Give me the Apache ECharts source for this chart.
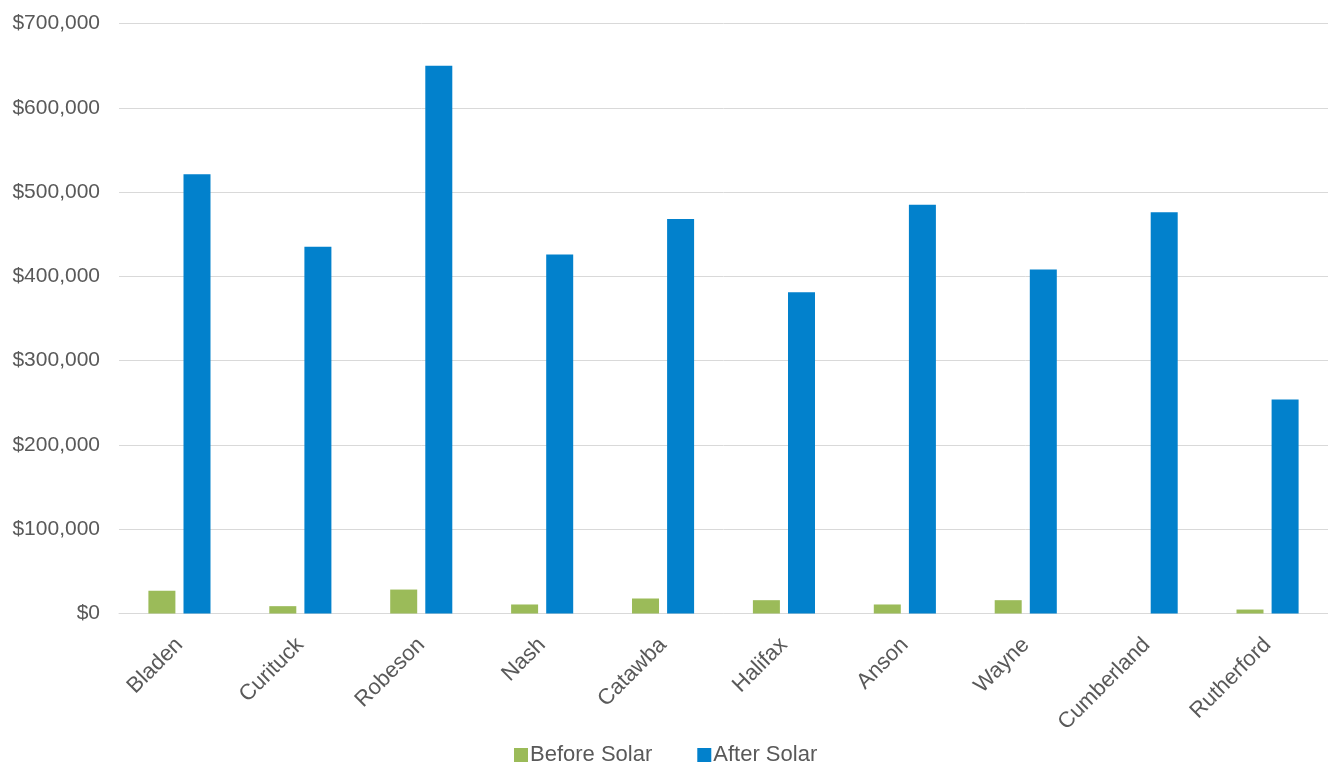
<!DOCTYPE html>
<html>
<head>
<meta charset="utf-8">
<script src="https://cdn.jsdelivr.net/npm/echarts@6/dist/echarts.min.js"></script>
<style>html,body{margin:0;padding:0;background:#fff}#c{width:1328px;height:764px}</style>
</head>
<body>
<div id="c"></div>
<script>
const categories = ['Bladen','Curituck','Robeson','Nash','Catawba','Halifax','Anson','Wayne','Cumberland','Rutherford'];
const beforeSolar = [27000, 8700, 28400, 10700, 17800, 15800, 10700, 15800, 0, 4700];
const afterSolar = [521000, 435000, 650000, 426000, 468000, 381000, 485000, 408000, 476000, 254000];
const yTicks = { min: 0, max: 700000, interval: 100000 };

const chart = echarts.init(document.getElementById('c'));
const fontFamily = 'Liberation Sans, Arial, sans-serif';
chart.setOption({
  animation: false,
  grid: { left: 119, right: -7, top: 23.5, bottom: 150.5, containLabel: false },
  legend: {
    data: ['Before Solar', 'After Solar'],
    top: 739, left: 509,
    icon: 'rect', itemWidth: 14, itemHeight: 14, itemGap: 45,
    textStyle: { fontFamily, fontSize: 22, color: '#595959', padding: [0, 0, 0, -3] }
  },
  xAxis: {
    type: 'category', data: categories,
    axisLine: { lineStyle: { color: '#D9D9D9', width: 1 } },
    axisTick: { show: false },
    axisLabel: { rotate: 45, interval: 0, margin: 28, fontFamily, fontSize: 22, color: '#595959' }
  },
  yAxis: {
    type: 'value', min: yTicks.min, max: yTicks.max, interval: yTicks.interval,
    axisLine: { show: false }, axisTick: { show: false },
    splitLine: { lineStyle: { color: '#D9D9D9', width: 1 } },
    axisLabel: {
      margin: 19, fontFamily, fontSize: 21, color: '#595959',
      formatter: v => '$' + v.toLocaleString('en-US')
    }
  },
  series: [
    { name: 'Before Solar', type: 'bar', data: beforeSolar, barWidth: 27, barGap: '30%',
      itemStyle: { color: '#9BBB59' } },
    { name: 'After Solar', type: 'bar', data: afterSolar, barWidth: 27,
      itemStyle: { color: '#0281CC' } }
  ]
});
</script>
</body>
</html>
